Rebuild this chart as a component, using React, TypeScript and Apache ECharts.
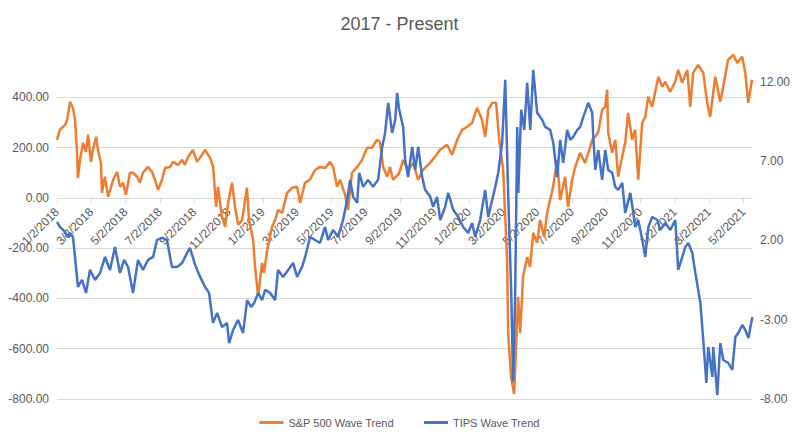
import { useEffect, useRef } from "react";
import * as echarts from "echarts";

// x = months since 1/2/2018
const sp500Trend: [number, number][] = [
  [0, 231], [0.17, 271], [0.47, 290], [0.59, 310], [0.76, 382], [0.93, 358], [1.05, 310], [1.16, 191],
  [1.22, 80], [1.34, 151], [1.52, 219], [1.69, 183], [1.81, 251], [1.98, 143], [2.09, 191], [2.28, 243],
  [2.39, 191], [2.56, 139], [2.62, 20], [2.79, 84], [2.98, 4], [3.15, 44], [3.27, 72], [3.5, 103],
  [3.67, 44], [3.85, 60], [4.02, 12], [4.25, 100], [4.43, 100], [4.67, 84], [4.84, 60], [5.01, 100],
  [5.3, 123], [5.54, 103], [5.71, 72], [5.89, 32], [6.12, 72], [6.29, 119], [6.59, 123], [6.76, 143],
  [7.05, 131], [7.29, 151], [7.46, 131], [7.64, 163], [7.92, 191], [8.16, 143], [8.45, 171], [8.62, 191],
  [8.92, 159], [9.1, 123], [9.27, -36], [9.38, 44], [9.61, -76], [9.8, -115], [9.97, -20], [10.2, 60],
  [10.37, -36], [10.56, -107], [10.79, -88], [11.07, 40], [11.19, -88], [11.43, -167], [11.54, -275], [11.72, -390],
  [11.95, -259], [12.06, -299], [12.25, -207], [12.53, -115], [12.71, -88], [12.88, -48], [13.12, -60], [13.41, 20],
  [13.7, 40], [13.99, 44], [14.17, -20], [14.45, 60], [14.74, 72], [15.04, 111], [15.33, 123], [15.63, 119],
  [15.91, 143], [16.09, 123], [16.32, 44], [16.5, 72], [16.79, 12], [16.96, -48], [17.19, 100], [17.49, 123],
  [17.78, 151], [18.07, 199], [18.35, 199], [18.65, 231], [18.82, 223], [19.01, 123], [19.24, 84], [19.41, 123],
  [19.58, 72], [19.88, 92], [20.0, 111], [20.17, 151], [20.46, 111], [20.76, 139], [21.04, 72], [21.33, 111],
  [21.74, 139], [22.03, 163], [22.32, 191], [22.73, 211], [23.02, 171], [23.32, 231], [23.61, 271], [23.9, 283],
  [24.19, 298], [24.48, 358], [24.77, 310], [24.95, 243], [25.13, 350], [25.36, 378], [25.59, 378], [25.77, 231],
  [26.0, 111], [26.11, -60], [26.23, -247], [26.29, -537], [26.46, -712], [26.64, -780], [26.76, -577], [26.87, -394],
  [26.99, -537], [27.16, -314], [27.4, -235], [27.57, -275], [27.75, -139], [27.98, -179], [28.15, -88], [28.39, -155],
  [28.56, -60], [28.74, -8], [28.91, 44], [29.15, 151], [29.32, -8], [29.61, 84], [29.78, -36], [30.02, 72],
  [30.2, 123], [30.48, 179], [30.77, 139], [30.96, 179], [31.19, 231], [31.36, 243], [31.53, 259], [31.77, 350],
  [31.94, 362], [32.06, 430], [32.12, 259], [32.35, 179], [32.53, 231], [32.7, 84], [32.93, 163], [33.11, 219],
  [33.28, 338], [33.52, 231], [33.69, 271], [33.87, 72], [34.1, 298], [34.28, 322], [34.45, 402], [34.68, 362],
  [34.85, 418], [35.04, 482], [35.27, 442], [35.44, 462], [35.73, 422], [36.03, 462], [36.2, 509], [36.43, 458],
  [36.73, 509], [36.9, 362], [37.07, 497], [37.36, 529], [37.66, 497], [37.89, 378], [38.06, 322], [38.36, 482],
  [38.65, 382], [38.82, 442], [39.11, 549], [39.41, 569], [39.64, 537], [39.93, 561], [40.11, 497], [40.28, 378],
  [40.5, 470],
];

const tipsTrend: [number, number][] = [
  [0, 3.17], [0.17, 2.85], [0.47, 2.54], [0.58, 2.22], [0.76, 2.47], [0.93, 2.22], [1.05, 0.96], [1.22, -0.93],
  [1.46, -0.49], [1.69, -1.31], [1.92, 0.14], [2.22, -0.49], [2.51, -0.05], [2.8, 0.96], [3.09, 0.14], [3.38, 1.59],
  [3.67, -0.05], [3.91, 0.77], [4.14, 0.33], [4.43, -1.31], [4.72, 0.77], [5.01, 0.14], [5.31, 0.77], [5.6, 0.96],
  [5.83, 2.03], [6.12, 2.16], [6.41, 2.03], [6.7, 0.33], [7.0, 0.33], [7.29, 0.58], [7.58, 1.21], [7.75, 1.53],
  [8.05, 0.46], [8.34, -0.3], [8.63, -0.93], [8.86, -1.31], [9.09, -3.2], [9.33, -2.57], [9.62, -3.46], [9.91, -3.2],
  [10.03, -4.47], [10.26, -3.65], [10.55, -3.02], [10.84, -3.84], [11.08, -1.76], [11.31, -2.19], [11.49, -1.94], [11.72, -1.31],
  [11.95, -1.76], [12.13, -1.12], [12.42, -1.31], [12.71, -1.76], [12.88, 0.14], [13.18, -0.3], [13.47, 0.14], [13.76, 0.58],
  [13.99, -0.3], [14.28, 0.33], [14.46, 0.96], [14.75, 2.22], [15.04, 2.03], [15.33, 1.84], [15.62, 2.85], [15.8, 2.03],
  [16.09, 2.66], [16.38, 2.22], [16.67, 3.29], [16.91, 4.56], [17.08, 5.82], [17.26, 4.75], [17.49, 4.37], [17.61, 6.26],
  [17.84, 5.38], [18.13, 5.82], [18.42, 5.38], [18.71, 5.82], [18.95, 7.9], [19.12, 8.78], [19.3, 10.68], [19.53, 8.78],
  [19.71, 9.6], [19.82, 11.3], [19.94, 10.24], [20.17, 9.16], [20.29, 7.08], [20.46, 6.0], [20.7, 7.9], [20.87, 6.45],
  [21.05, 7.9], [21.28, 6.0], [21.45, 5.19], [21.75, 4.75], [21.92, 4.12], [22.15, 4.75], [22.33, 3.29], [22.62, 4.12],
  [22.8, 5.0], [23.09, 3.93], [23.38, 3.48], [23.67, 2.85], [23.96, 2.47], [24.19, 3.1], [24.37, 2.22], [24.66, 3.29],
  [24.95, 5.19], [25.13, 3.48], [25.36, 4.56], [25.54, 5.38], [25.71, 6.26], [25.94, 8.15], [26.12, 12.13], [26.29, 5.0],
  [26.47, -1.31], [26.58, -6.9], [26.7, -1.31], [26.82, 9.16], [26.88, 5.0], [27.05, 10.24], [27.23, 8.97], [27.4, 11.94],
  [27.58, 8.97], [27.75, 12.76], [27.98, 10.05], [28.28, 9.6], [28.45, 9.16], [28.74, 8.97], [28.92, 8.15], [29.15, 6.0],
  [29.32, 8.34], [29.5, 6.89], [29.73, 8.97], [29.91, 8.34], [30.08, 8.53], [30.32, 8.97], [30.49, 9.16], [30.67, 9.79],
  [30.96, 10.68], [31.19, 10.05], [31.25, 8.53], [31.37, 6.45], [31.54, 7.71], [31.77, 5.82], [31.95, 7.71], [32.12, 6.45],
  [32.36, 6.26], [32.53, 5.38], [32.71, 5.19], [32.94, 5.63], [33.11, 3.74], [33.41, 5.0], [33.7, 2.85], [33.87, 3.29],
  [34.11, 2.03], [34.28, 0.96], [34.46, 2.85], [34.69, 3.48], [34.98, 3.29], [35.15, 2.66], [35.45, 3.1], [35.74, 2.66],
  [36.03, 3.29], [36.2, 0.14], [36.44, 0.96], [36.61, 1.59], [36.79, 1.84], [37.02, 1.21], [37.2, -0.05], [37.49, -1.94],
  [37.66, -4.28], [37.84, -6.99], [37.95, -4.72], [38.19, -6.61], [38.24, -4.72], [38.48, -7.75], [38.65, -4.47], [38.83, -5.54],
  [39.12, -5.73], [39.35, -6.17], [39.53, -4.09], [39.7, -3.84], [39.94, -3.33], [40.11, -3.65], [40.29, -4.15], [40.52, -2.83],
];

const seriesNames = ["S&P 500 Wave Trend", "TIPS Wave Trend"];
const textColor = "#595959";
const font = "Liberation Sans";

const App = () => {
  const chartRef = useRef<HTMLDivElement>(null);

  useEffect(() => {
    document.body.style.margin = "0";
    const chart = echarts.init(chartRef.current, null, { renderer: "svg" });
    chart.setOption({
      animation: false,
      textStyle: { fontFamily: font },
      title: {
        text: "2017 - Present",
        left: "center",
        top: 10,
        textStyle: { fontSize: 18, fontWeight: "normal", color: textColor, fontFamily: font },
      },
      legend: {
        bottom: 12,
        left: "center",
        icon: "rect",
        itemWidth: 24,
        itemHeight: 3,
        itemGap: 30,
        textStyle: { color: textColor, fontSize: 11 },
        data: seriesNames,
      },
      grid: { left: 57, right: 47, top: 47, bottom: 46 },
      xAxis: {
        type: "value",
        min: 0,
        max: 40.5,
        interval: 2,
        offset: -201,
        axisLine: { onZero: false, lineStyle: { color: "#d9d9d9" } },
        axisTick: { show: true, length: 5, lineStyle: { color: "#d9d9d9" } },
        splitLine: { show: false },
        axisLabel: {
          rotate: 45,
          margin: 12,
          color: textColor,
          fontSize: 12,
          showMaxLabel: false,
          formatter: (v: number) => `${(v % 12) + 1}/2/${2018 + Math.floor(v / 12)}`,
        },
      },
      yAxis: [
        {
          type: "value",
          min: -800,
          max: 600,
          interval: 200,
          axisLine: { show: false },
          axisTick: { show: false },
          splitLine: {
            lineStyle: {
              color: ["#d9d9d9", "#d9d9d9", "#d9d9d9", "#d9d9d9", "#d9d9d9", "#d9d9d9", "#d9d9d9", "transparent"],
            },
          },
          axisLabel: {
            color: textColor,
            fontSize: 12,
            showMaxLabel: false,
            formatter: (v: number) => v.toFixed(2),
          },
        },
        {
          type: "value",
          min: -8,
          max: 14.2,
          interval: 5,
          axisLine: { show: false },
          axisTick: { show: false },
          splitLine: { show: false },
          axisLabel: {
            color: textColor,
            fontSize: 12,
            showMaxLabel: false,
            formatter: (v: number) => v.toFixed(2),
          },
        },
      ],
      series: [
        {
          name: seriesNames[0],
          type: "line",
          yAxisIndex: 0,
          symbol: "none",
          data: sp500Trend,
          lineStyle: { color: "#ED7D31", width: 2.5 },
          itemStyle: { color: "#ED7D31" },
        },
        {
          name: seriesNames[1],
          type: "line",
          yAxisIndex: 1,
          symbol: "none",
          data: tipsTrend,
          lineStyle: { color: "#4472C4", width: 2.5 },
          itemStyle: { color: "#4472C4" },
        },
      ],
    });
    return () => {
      chart.dispose();
    };
  }, []);

  return <div ref={chartRef} style={{ width: 799, height: 445 }} />;
};

export default App;
